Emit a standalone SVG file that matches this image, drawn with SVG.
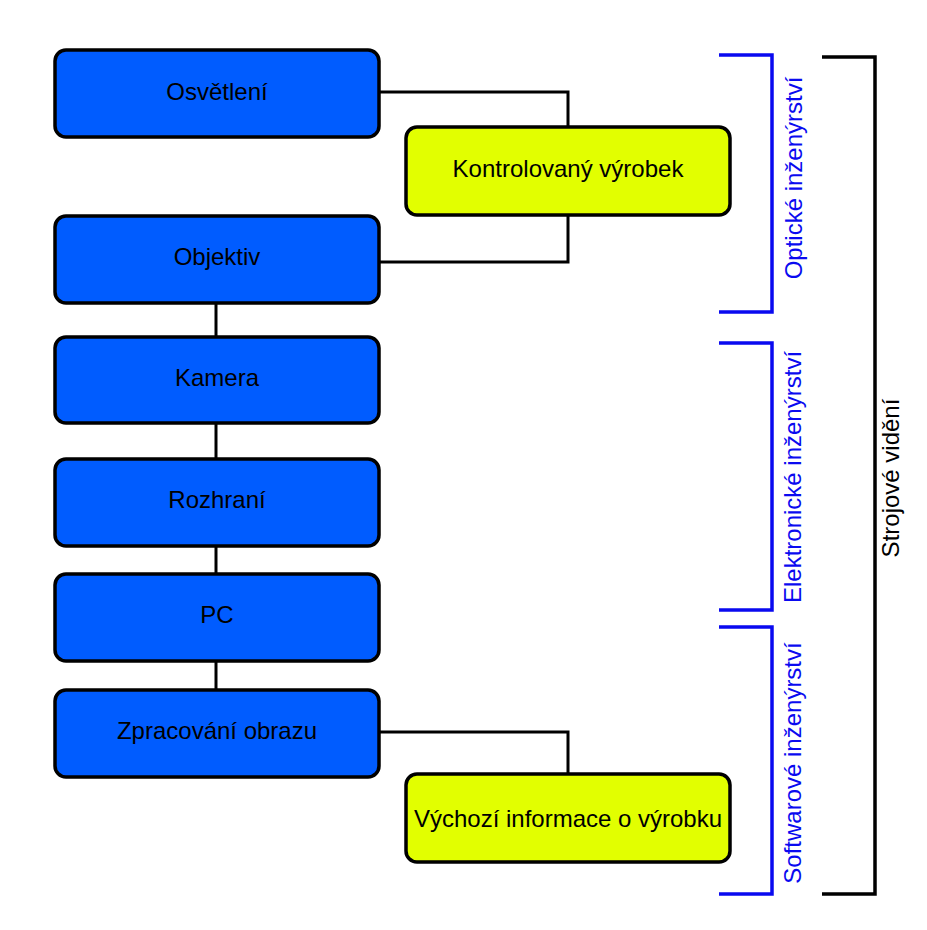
<svg xmlns="http://www.w3.org/2000/svg" width="927" height="930" viewBox="0 0 927 930">
<style>
.box{stroke:#000;stroke-width:3.5}
.blue{fill:#005cff}
.yel{fill:#e2ff00}
.lbl{font-family:"Liberation Sans",Arial,sans-serif;font-size:24px;text-anchor:middle;fill:#000}
.conn{fill:none;stroke:#000;stroke-width:3}
.br{fill:none;stroke:#0a0af0;stroke-width:3.5}
.brk{fill:none;stroke:#000;stroke-width:3.5}
.vt{font-family:"Liberation Sans",Arial,sans-serif;font-size:24px;text-anchor:middle}
</style>
<rect width="927" height="930" fill="#fff"/>
<g id="connectors">
<path class="conn" d="M379 92H568V127"/>
<path class="conn" d="M379 262H568V215"/>
<path class="conn" d="M216 303V337"/>
<path class="conn" d="M216 423V459"/>
<path class="conn" d="M216 546V574"/>
<path class="conn" d="M216 661V690"/>
<path class="conn" d="M379 732H568V774"/>
</g>
<g id="n-osvetleni"><rect class="box blue" x="55" y="50" width="324" height="87" rx="11"/><text class="lbl" x="217" y="100">Osvětlení</text></g>
<g id="n-kontrolovany"><rect class="box yel" x="406" y="127" width="324" height="88" rx="11"/><text class="lbl" x="568" y="177">Kontrolovaný výrobek</text></g>
<g id="n-objektiv"><rect class="box blue" x="55" y="216" width="324" height="87" rx="11"/><text class="lbl" x="217" y="265">Objektiv</text></g>
<g id="n-kamera"><rect class="box blue" x="55" y="337" width="324" height="86" rx="11"/><text class="lbl" x="217" y="386">Kamera</text></g>
<g id="n-rozhrani"><rect class="box blue" x="55" y="459" width="324" height="87" rx="11"/><text class="lbl" x="217" y="508">Rozhraní</text></g>
<g id="n-pc"><rect class="box blue" x="55" y="574" width="324" height="87" rx="11"/><text class="lbl" x="217" y="623">PC</text></g>
<g id="n-zpracovani"><rect class="box blue" x="55" y="690" width="324" height="87" rx="11"/><text class="lbl" x="217" y="739">Zpracování obrazu</text></g>
<g id="n-vychozi"><rect class="box yel" x="406" y="774" width="324" height="88" rx="11"/><text class="lbl" x="568" y="827">Výchozí informace o výrobku</text></g>
<g id="b-opticke"><path class="br" d="M719 55H772V312H719"/><text class="vt" fill="#0a0af0" transform="translate(802 178) rotate(-90)">Optické inženýrství</text></g>
<g id="b-elektronicke"><path class="br" d="M719 343H772V610H719"/><text class="vt" fill="#0a0af0" transform="translate(801 477) rotate(-90)">Elektronické inženýrství</text></g>
<g id="b-softwarove"><path class="br" d="M719 627H772V894H719"/><text class="vt" fill="#0a0af0" transform="translate(801 763) rotate(-90)">Softwarové inženýrství</text></g>
<g id="b-strojove"><path class="brk" d="M822 57H875V894H822"/><text class="vt" fill="#000" transform="translate(899 478) rotate(-90)">Strojové vidění</text></g>
</svg>
